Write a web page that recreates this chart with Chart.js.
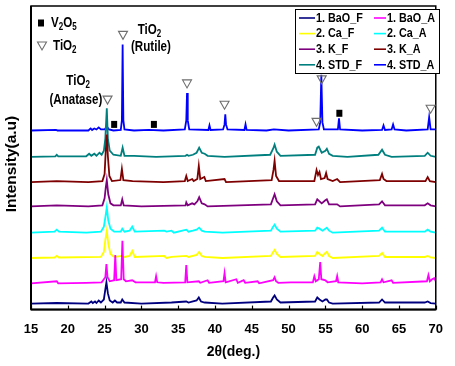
<!DOCTYPE html>
<html><head><meta charset="utf-8">
<script src="https://cdn.jsdelivr.net/npm/chart.js@4/dist/chart.umd.min.js"></script>
<style>html,body{margin:0;padding:0;background:#fff}canvas{display:block}</style>
</head><body>
<canvas id="c" width="455" height="366"></canvas>
<script>
// ---- data (2θ in degrees, intensity above each pattern's own baseline, a.u.) ----
const seriesLabels = ['1. BaO_F','1. BaO_A','2. Ca_F','2. Ca_A','3. K_F','3. K_A','4. STD_F','4. STD_A'];
const seriesColors = ['#00007f','#ff00ff','#ffff00','#00ffff','#7f007f','#7f0000','#007f7f','#0000ff'];
const seriesOffsets = [6, 26, 51, 76, 102, 126, 151, 177];
const xTicks = [15,20,25,30,35,40,45,50,55,60,65,70];

const BaO_F = [[15,0],[18.5,0.5],[22.8,0],[23.2,2],[23.4,0.5],[23.7,2],[23.9,0.5],[24.2,3],[24.5,1],[24.9,4],[25.1,14],[25.25,21],[25.45,10],[25.7,3],[26.1,1],[26.4,3],[26.7,1],[27.2,1],[27.4,4],[27.7,1],[30,0],[34.1,1],[36.1,2],[36.4,1],[37.5,3],[37.8,6],[38.1,2],[38.6,1],[41,0],[47.6,2],[47.9,6],[48.1,8],[48.4,4],[48.9,1],[53.6,2],[53.9,6],[54.2,4],[54.6,2],[55.0,4],[55.2,4],[55.5,1],[56,0],[62.3,1],[62.7,4],[63.1,1],[68.5,1],[68.9,2],[69.3,0.5],[70,0]];
const BaO_A = [[15,0],[18.5,2],[18.7,0],[22.5,0.5],[24.6,1],[25.1,6],[25.25,19],[25.4,6],[25.7,2],[26.3,3],[26.45,28],[26.6,3],[27.25,4],[27.42,42],[27.6,4],[27.9,2],[28.75,3],[29.2,1],[31.85,1],[32.0,7],[32.15,1],[33.0,0.5],[35.95,1],[36.1,18],[36.25,1],[37.8,2],[38.0,0.5],[39.0,3],[39.2,0.5],[41.15,2],[41.3,10],[41.45,1],[42.9,4],[43.1,0.5],[43.9,3],[44.1,0.5],[45.8,2],[46,0],[47.9,3],[48.1,6],[48.3,2],[48.6,0.5],[50.3,1],[53.3,1],[53.5,7],[53.7,2],[54.1,4],[54.3,21],[54.45,4],[55.0,3],[55.3,1],[56.45,2],[56.6,7],[56.75,1],[60,0],[62.5,1],[62.7,4],[62.9,1],[64.0,3],[64.2,0.5],[68.8,2],[69.0,8],[69.2,2],[69.5,4],[69.8,5],[70,2]];
const Ca_F = [[15,0],[18.2,0.5],[18.5,2],[18.8,0.5],[24.5,1],[24.9,6],[25.1,18],[25.3,27],[25.5,14],[25.8,4],[26.3,1],[27.4,2],[27.7,1],[28.4,2],[28.75,7],[29.1,1],[33.1,2],[33.4,0],[34.1,1],[36.1,2],[36.4,1],[37.5,3],[37.85,6],[38.2,2],[38.6,1],[41,0],[47.6,2],[47.9,6],[48.1,8],[48.4,4],[48.9,1],[53.6,2],[53.9,6],[54.2,4],[54.6,2],[55.0,5],[55.2,6],[55.5,2],[56,0],[62.3,2],[62.7,5],[63.1,1],[68.5,1],[68.9,2],[69.3,0.5],[70,0]];
const Ca_A = [[15,0],[18.2,1],[18.5,3],[18.8,1],[22.5,0],[24.5,1],[24.9,6],[25.1,15],[25.3,25],[25.5,12],[25.8,4],[26.3,1],[27.2,1],[27.4,4],[27.7,1],[28.4,2],[28.75,6],[29.1,1],[33.1,2],[33.4,1],[34.1,2],[34.4,0],[36.1,3],[36.4,1],[37.0,2],[37.5,3],[37.85,5],[38.2,2],[38.6,1],[41,0],[47.6,2],[47.9,6],[48.1,8],[48.4,4],[48.9,1],[53.6,2],[53.9,5],[54.2,4],[54.6,2],[55.0,4],[55.2,5],[55.5,2],[56,0],[62.3,2],[62.7,5],[63.1,1],[68.5,1],[68.9,3],[69.3,1],[70,0]];
const K_F = [[15,0],[18.5,1],[22.8,0],[24.7,1],[25.0,8],[25.15,18],[25.3,26],[25.5,12],[25.8,3],[26.2,1],[27.2,1],[27.4,7],[27.6,1],[30,0],[36.0,1],[36.1,4],[36.3,1],[36.9,3],[37.2,2],[37.6,5],[37.85,9],[38.2,3],[38.6,2],[39,0],[47.6,2],[47.9,8],[48.1,12],[48.4,5],[48.9,1],[53.6,2],[53.9,7],[54.2,5],[54.5,3],[55.0,6],[55.2,7],[55.5,2],[56.6,2],[57,0],[62.3,2],[62.7,5],[63.1,1],[68.5,1],[68.9,3],[69.3,1],[70,0]];
const K_A = [[15,0],[18.5,1],[22.8,0],[24.7,1],[25.0,8],[25.15,30],[25.3,47],[25.45,25],[25.65,6],[26,1],[27.15,2],[27.35,13],[27.55,2],[28.8,1],[33,0],[35.9,1],[36.1,6],[36.3,1],[36.9,3],[37.1,1],[37.6,3],[37.8,16],[38.0,3],[38.55,5],[38.75,1],[41.3,3],[41.5,0],[47.7,2],[47.95,12],[48.1,21],[48.3,6],[48.7,1],[53.5,1],[53.8,12],[54.0,7],[54.2,10],[54.4,3],[54.9,4],[55.1,9],[55.3,3],[56.0,1],[56.6,3],[57,0],[62.4,2],[62.7,8],[62.9,3],[63.3,1],[68.6,1],[68.9,5],[69.2,1],[70,0]];
const STD_F = [[15,0],[18.3,0.5],[18.5,2],[18.7,0.5],[22.5,0.5],[22.9,3],[23.2,1],[23.6,3],[23.9,1],[24.3,4],[24.6,2],[24.9,6],[25.1,18],[25.3,48],[25.45,18],[25.7,6],[26.2,2],[27.2,1],[27.45,9],[27.7,1],[29,1],[32,0],[36.0,1],[36.2,2],[36.4,1],[37.0,2],[37.5,4],[37.85,9],[38.2,4],[38.6,3],[39,1],[41.3,0],[47.5,2],[47.9,8],[48.1,12],[48.4,5],[48.9,1],[53.6,2],[53.9,9],[54.1,10],[54.5,4],[55.0,6],[55.2,8],[55.5,3],[56.0,1],[58,0],[62.2,2],[62.7,7],[63.1,2],[64,0],[68.5,1],[68.9,4],[69.3,1],[70,0]];
const STD_A = [[15,0],[18.4,0.5],[18.6,0],[22.8,0],[23.1,2],[23.3,0.5],[23.6,2],[23.9,1],[24.2,3],[24.5,1],[25.0,1],[25.3,4],[25.6,1],[26.2,0],[27.2,0.5],[27.35,10],[27.45,85],[27.55,10],[27.7,1],[29,0],[31,0.5],[33,0],[35.9,1],[36.1,10],[36.2,37],[36.3,10],[36.5,1],[39.1,0.5],[39.25,5],[39.4,0.5],[41.1,1],[41.3,6],[41.4,16],[41.5,6],[41.7,1],[44.0,0.5],[44.15,6],[44.3,0.5],[47,0],[48.0,1],[50,0],[54.1,1],[54.3,8],[54.45,55],[54.6,8],[54.8,1],[56.7,1],[56.85,12],[57.0,1],[60,0],[62.7,0.5],[62.9,5],[63.1,0.5],[64.0,1],[64.2,6],[64.4,1],[66,0],[68.9,1],[69.1,13],[69.3,1],[70,1]];
const seriesData = [BaO_F, BaO_A, Ca_F, Ca_A, K_F, K_A, STD_F, STD_A];

// phase markers: [2θ, height on the stacked scale]
const tio2Marks = [[25.4,207],[27.5,271],[36.2,223],[41.3,202],[54.5,227],[53.8,185],[69.3,198]];
const v2o5Marks = [[26.3,183],[31.7,183],[56.9,194]];

const WF = '"Liberation Sans",Arial,sans-serif';
const SX = 0.8; // horizontal squeeze of the reference's lettering

const datasets = seriesData.map((arr,i)=>({
  label: seriesLabels[i],
  data: arr.map(p=>({x:p[0], y:p[1]+seriesOffsets[i]})),
  borderColor: seriesColors[i],
  backgroundColor: seriesColors[i],
  borderWidth: 1.8,
  pointRadius: 0,
  tension: 0,
  fill: false
}));

function txt(ctx, s, x, y, size, align){
  ctx.save();
  ctx.font = 'bold '+size+'px '+WF;
  const w = ctx.measureText(s).width*SX;
  const x0 = align==='center' ? x - w/2 : x;
  ctx.translate(x0, y); ctx.scale(SX,1);
  ctx.textAlign='left'; ctx.textBaseline='middle'; ctx.fillStyle='#000';
  ctx.fillText(s,0,0);
  ctx.restore();
  return w;
}
function chem(ctx, parts, x, y, size, align){
  let w = 0;
  parts.forEach(p=>{ctx.font='bold '+(p[1]?Math.round(size*0.72):size)+'px '+WF; w += ctx.measureText(p[0]).width*SX;});
  let cx = align==='center' ? x - w/2 : x;
  parts.forEach(p=>{ cx += txt(ctx, p[0], cx, p[1]? y+size*0.32 : y, p[1]?Math.round(size*0.72):size, 'left'); });
}
function tri(ctx,x,y){ctx.save();ctx.strokeStyle='#6e6e6e';ctx.lineWidth=1.1;ctx.beginPath();ctx.moveTo(x-4.5,y-4);ctx.lineTo(x+4.5,y-4);ctx.lineTo(x,y+4);ctx.closePath();ctx.stroke();ctx.restore();}
function sq(ctx,x,y){ctx.fillStyle='#000';ctx.fillRect(x-3,y-3.5,6,7);}

const decor = {
  id:'decor',
  afterDatasetsDraw(chart){
    const ctx=chart.ctx, a=chart.chartArea, xs=chart.scales.x, ys=chart.scales.y;
    ctx.save();
    // frame
    ctx.strokeStyle='#000'; ctx.lineWidth=1.5;
    ctx.strokeRect(a.left, a.top, a.right-a.left, a.bottom-a.top);
    ctx.lineWidth=2; ctx.beginPath(); ctx.moveTo(a.left,a.bottom); ctx.lineTo(a.right,a.bottom); ctx.moveTo(a.left,a.top); ctx.lineTo(a.left,a.bottom); ctx.stroke();
    // inward tick marks
    ctx.lineWidth=1.2;
    xTicks.forEach(t=>{const px=Math.round(xs.getPixelForValue(t))+0.5; ctx.beginPath(); ctx.moveTo(px,a.bottom); ctx.lineTo(px,a.bottom-4); ctx.stroke();});
    // phase markers
    tio2Marks.forEach(m=>tri(ctx, xs.getPixelForValue(m[0]), ys.getPixelForValue(m[1])));
    v2o5Marks.forEach(m=>sq(ctx, xs.getPixelForValue(m[0]), ys.getPixelForValue(m[1])));
    // marker key
    sq(ctx, a.left+10, a.top+17);
    chem(ctx, [['V',0],['2',1],['O',0],['5',1]], a.left+20, a.top+17, 14.5);
    tri(ctx, a.left+11, a.top+40);
    chem(ctx, [['TiO',0],['2',1]], a.left+22, a.top+40, 14.5);
    // phase labels
    chem(ctx, [['TiO',0],['2',1]], xs.getPixelForValue(31.1), a.top+24, 14.5, 'center');
    txt(ctx, '(Rutile)', xs.getPixelForValue(31.3), a.top+41, 14.5, 'center');
    chem(ctx, [['TiO',0],['2',1]], xs.getPixelForValue(21.4), a.top+75, 14.5, 'center');
    txt(ctx, '(Anatase)', xs.getPixelForValue(21.1), a.top+94, 14.5, 'center');
    // legend box
    const lx=295, ly=9, lw=144, lh=64;
    ctx.fillStyle='#fff'; ctx.fillRect(lx,ly,lw,lh);
    ctx.strokeStyle='#000'; ctx.lineWidth=1; ctx.strokeRect(lx+0.5,ly+0.5,lw,lh);
    chart.data.datasets.forEach((d,i)=>{
      const col=i%2, row=Math.floor(i/2);
      const y=ly+9+row*15.6;
      const x0 = col===0 ? lx+4 : lx+79, x1 = col===0 ? lx+20 : lx+91;
      ctx.strokeStyle=d.borderColor; ctx.lineWidth=1.6;
      ctx.beginPath(); ctx.moveTo(x0,y); ctx.lineTo(x1,y); ctx.stroke();
      txt(ctx, d.label, x1+1, y, 13.5, 'left');
    });
    // y title
    ctx.save(); ctx.translate(12, 164); ctx.rotate(-Math.PI/2);
    ctx.font='bold 15.5px '+WF; ctx.textAlign='center'; ctx.textBaseline='middle'; ctx.fillStyle='#000';
    ctx.fillText('Intensity(a.u)',0,0); ctx.restore();
    ctx.restore();
  }
};

new Chart(document.getElementById('c'), {
  type:'line',
  data:{datasets},
  options:{
    responsive:false, animation:false,
    layout:{padding:{left:31,right:10,top:6,bottom:5}},
    plugins:{legend:{display:false}, tooltip:{enabled:false}},
    scales:{
      x:{type:'linear', min:15, max:70,
         afterBuildTicks(s){ s.ticks = xTicks.map(v=>({value:v})); },
         ticks:{font:{family:WF,size:13,weight:'bold'}, color:'#000', padding:12, maxRotation:0, autoSkip:false},
         grid:{display:false, drawTicks:false}, border:{display:false},
         title:{display:true, text:'2θ(deg.)', color:'#000', font:{family:WF,size:14,weight:'bold'}, padding:{top:-5,bottom:0}}},
      y:{display:false, min:0, max:300}
    }
  },
  plugins:[decor]
});
</script>
</body></html>
